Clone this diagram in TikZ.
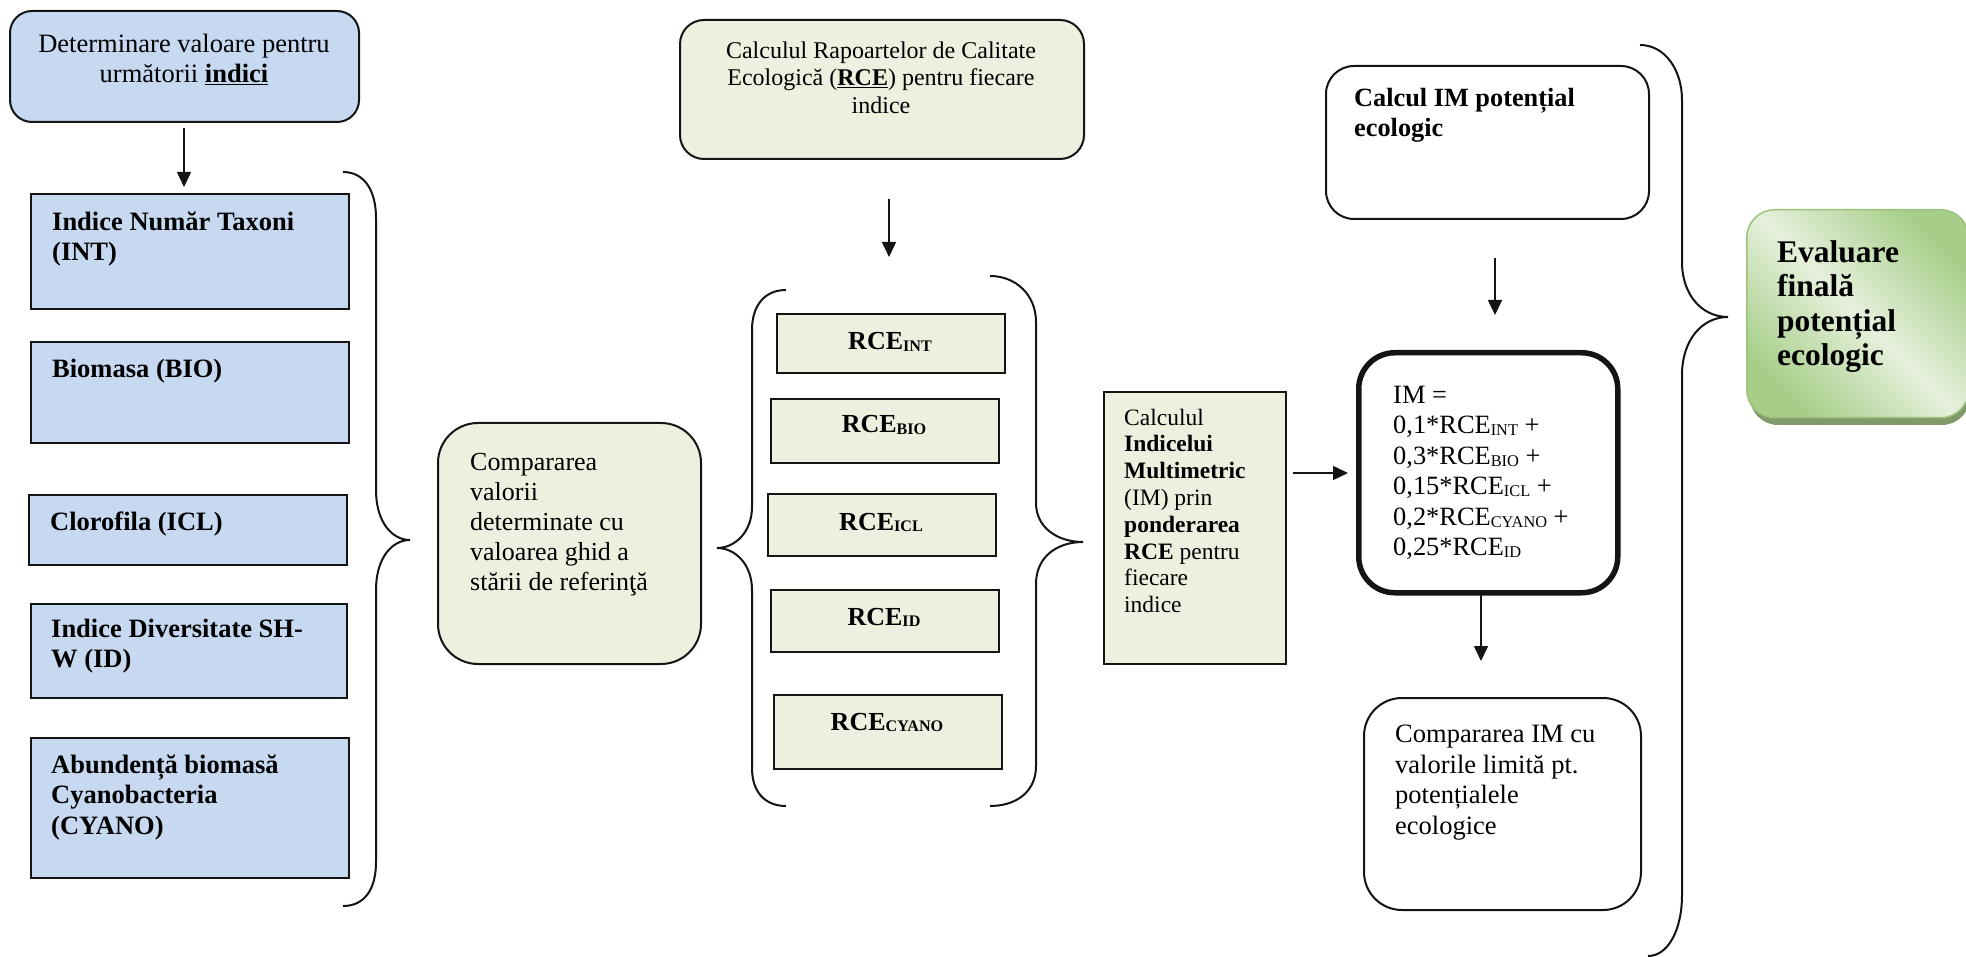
\documentclass[tikz,border=0pt]{standalone}
\usepackage{fontspec}
\setmainfont{Liberation Serif}
\usetikzlibrary{arrows.meta}
\definecolor{blueF}{HTML}{C6D9F1}
\definecolor{greenF}{HTML}{EBF1DE}
\definecolor{evalD}{HTML}{A6CE89}
\definecolor{evalL}{HTML}{E6F0DC}
\definecolor{evalB}{HTML}{9CC27C}
\definecolor{evalS}{HTML}{809A6C}
\definecolor{lineC}{HTML}{141414}
\pgfdeclarehorizontalshading{evalsh}{100bp}{color(0bp)=(evalD); color(25bp)=(evalD); color(50bp)=(evalL); color(75bp)=(evalD); color(100bp)=(evalD)}
\newcommand{\rsub}[1]{\raisebox{-1.8pt}{\scalebox{0.62}{#1}}}
\newcommand{\fsz}[2]{\fontsize{#1}{#2}\selectfont}
\begin{document}
\begin{tikzpicture}[x=1pt,y=-1pt,
  box/.style={draw=lineC, line width=2pt, inner sep=0pt, anchor=north west},
  bluebox/.style={box, fill=blueF},
  greenbox/.style={box, fill=greenF},
  whitebox/.style={box, fill=white},
  txt/.style={inner sep=0pt, align=left, anchor=north west},
  ctxt/.style={inner sep=0pt, align=center, anchor=north},
  rce/.style={inner sep=0pt, anchor=base, font=\bfseries\fsz{26}{30}},
  arr/.style={draw=lineC, line width=1.6pt, -{Triangle[length=15pt,width=14pt]}},
  brace/.style={draw=lineC, line width=2pt}
]
\useasboundingbox (0,0) rectangle (1966,957);

% ---------- left column ----------
\node[bluebox, rounded corners=22pt, minimum width=349pt, minimum height=111pt] (det) at (9,10) {};
\node[ctxt, font=\fsz{26.5}{30}] (detT) at (184,31) {\strut Determinare valoare pentru\\ următorii \textbf{\underline{indici}}};

\node[bluebox, minimum width=318pt, minimum height=115pt] (int) at (30,193) {};
\node[txt, font=\bfseries\fsz{26.5}{30.5}] (intT) at (52,208.65) {\strut Indice Număr Taxoni\\ (INT)};

\node[bluebox, minimum width=318pt, minimum height=101pt] (bio) at (30,341) {};
\node[txt, font=\bfseries\fsz{26.5}{30.5}] (bioT) at (52,355.65) {\strut Biomasa (BIO)};

\node[bluebox, minimum width=318pt, minimum height=70pt] (icl) at (28,494) {};
\node[txt, font=\bfseries\fsz{26.5}{30.5}] (iclT) at (50,508.65) {\strut Clorofila (ICL)};

\node[bluebox, minimum width=316pt, minimum height=94pt] (idb) at (30,603) {};
\node[txt, font=\bfseries\fsz{26.5}{30.5}] (idT) at (51,615.65) {\strut Indice Diversitate SH-\\ W (ID)};

\node[bluebox, minimum width=318pt, minimum height=140pt] (cya) at (30,737) {};
\node[txt, font=\bfseries\fsz{26.5}{30.5}] (cyaT) at (51,751.65) {\strut Abundență biomasă\\ Cyanobacteria\\ (CYANO)};

\coordinate (a1s) at (184,128);
\coordinate (a1e) at (184,187);
\draw[arr] (a1s) -- (a1e);

\draw[brace] (343,172) .. controls (364,172) and (376,190) .. (376,218) -- (376,490)
  .. controls (376,522) and (392,540) .. (410,540)
  .. controls (392,540) and (376,558) .. (376,590) -- (376,862)
  .. controls (376,890) and (364,906) .. (343,906);

% ---------- comparison ----------
\node[greenbox, rounded corners=40pt, minimum width=263pt, minimum height=241pt] (comp) at (437,422) {};
\node[txt, font=\fsz{26}{30}] (compT) at (470,449) {\strut Compararea\\ valorii\\ determinate cu\\ valoarea ghid a\\ stării de referinţă};

% ---------- RCE column ----------
\node[greenbox, rounded corners=24pt, minimum width=404pt, minimum height=139pt] (rap) at (679,19) {};
\node[ctxt, font=\fsz{24}{27.5}] (rapT) at (881,38.75) {\strut Calculul Rapoartelor de Calitate\\ Ecologică (\textbf{\underline{RCE}}) pentru fiecare\\ indice};

\coordinate (a2s) at (889,199);
\coordinate (a2e) at (889,257);
\draw[arr] (a2s) -- (a2e);

\node[greenbox, minimum width=228pt, minimum height=59pt] (rint) at (776,313) {};
\node[rce] (rintT) at (890,350) {RCE\rsub{INT}};
\node[greenbox, minimum width=228pt, minimum height=64pt] (rbio) at (770,398) {};
\node[rce] (rbioT) at (884,433) {RCE\rsub{BIO}};
\node[greenbox, minimum width=228pt, minimum height=62pt] (ricl) at (767,493) {};
\node[rce] (riclT) at (881,530) {RCE\rsub{ICL}};
\node[greenbox, minimum width=228pt, minimum height=62pt] (rid) at (770,589) {};
\node[rce] (ridT) at (884,625) {RCE\rsub{ID}};
\node[greenbox, minimum width=228pt, minimum height=74pt] (rcy) at (773,694) {};
\node[rce] (rcyT) at (887,730) {RCE\rsub{CYANO}};

\draw[brace] (786,290) .. controls (765,290) and (752,305) .. (752,330) -- (752,507)
  .. controls (752,532) and (735,548) .. (717,548)
  .. controls (735,548) and (752,564) .. (752,590) -- (752,768)
  .. controls (752,792) and (765,806) .. (786,806);
\draw[brace] (990,276) .. controls (1016,276) and (1036,295) .. (1036,322) -- (1036,503)
  .. controls (1036,528) and (1058,542) .. (1083,542)
  .. controls (1058,542) and (1036,556) .. (1036,584) -- (1036,766)
  .. controls (1036,792) and (1016,806) .. (990,806);

% ---------- multimetric ----------
\node[greenbox, minimum width=182pt, minimum height=272pt] (ind) at (1103,391) {};
\node[txt, font=\fsz{23.5}{26.8}] (indT) at (1124,406.2) {\strut Calculul\\ \textbf{Indicelui}\\ \textbf{Multimetric}\\ (IM) prin\\ \textbf{ponderarea}\\ \textbf{RCE} pentru\\ fiecare\\ indice};

\node[whitebox, rounded corners=36pt, line width=5.5pt, minimum width=259pt, minimum height=240pt] (im) at (1356,350) {};
\node[txt, font=\fsz{26.4}{30.5}] (imT) at (1393,381.65) {\strut IM =\\ 0,1*RCE\rsub{INT} +\\ 0,3*RCE\rsub{BIO} +\\ 0,15*RCE\rsub{ICL} +\\ 0,2*RCE\rsub{CYANO} +\\ 0,25*RCE\rsub{ID}};

\coordinate (a3s) at (1293,473);
\coordinate (a3e) at (1348,473);
\draw[arr] (a3s) -- (a3e);

\node[whitebox, rounded corners=28pt, minimum width=323pt, minimum height=153pt] (cim) at (1325,65) {};
\node[txt, font=\bfseries\fsz{26.3}{30}] (cimT) at (1354,85) {\strut Calcul IM potențial\\ ecologic};

\coordinate (a4s) at (1495,258);
\coordinate (a4e) at (1495,315);
\draw[arr] (a4s) -- (a4e);

\node[whitebox, rounded corners=38pt, minimum width=277pt, minimum height=212pt] (cmp) at (1363,697) {};
\node[txt, font=\fsz{26.5}{30.5}] (cmpT) at (1395,721.15) {\strut Compararea IM cu\\ valorile limită pt.\\ potențialele\\ ecologice};

\coordinate (a5s) at (1481,594);
\coordinate (a5e) at (1481,661);
\draw[arr] (a5s) -- (a5e);

\draw[brace] (1640,45) .. controls (1665,45) and (1682,70) .. (1682,100) -- (1682,262)
  .. controls (1682,295) and (1702,317) .. (1728,317)
  .. controls (1702,317) and (1682,340) .. (1682,375) -- (1682,895)
  .. controls (1682,930) and (1668,956) .. (1648,956);

% ---------- final evaluation ----------
\fill[evalS, rounded corners=28pt] (1750,217) rectangle (1970,425);
\node[box, draw=evalB, line width=1.5pt, rounded corners=28pt, shading=evalsh, shading angle=45, minimum width=222pt, minimum height=208pt] (eva) at (1746,209) {};
\node[txt, font=\bfseries\fsz{31.5}{34.5}] (evaT) at (1777,237.85) {\strut Evaluare\\ finală\\ potențial\\ ecologic};
\end{tikzpicture}
\end{document}
